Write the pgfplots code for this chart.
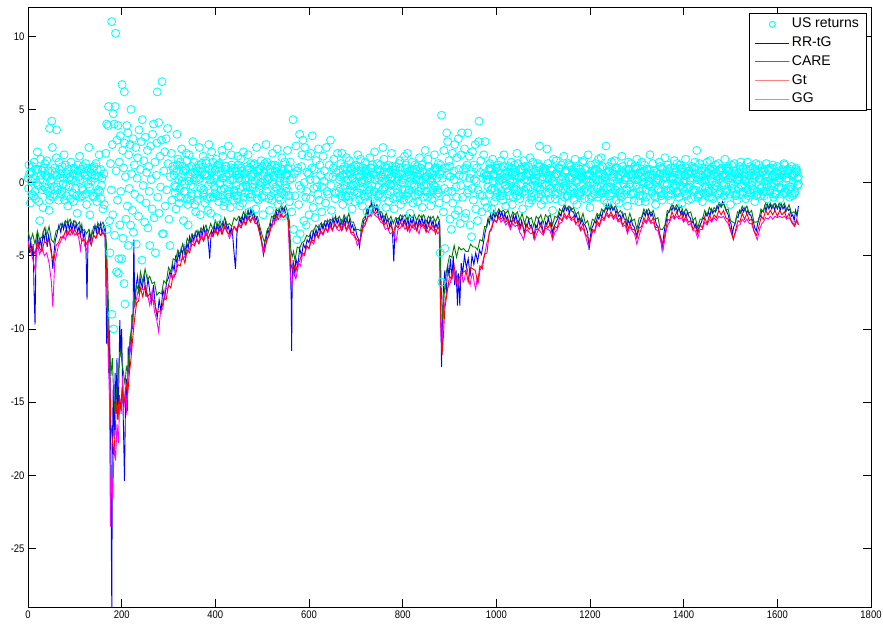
\documentclass[border=0pt]{standalone}
\usepackage{fontspec}
\setmainfont{Liberation Sans}
\newfontfamily\tickfont[FakeStretch=0.86]{Liberation Sans}
\usepackage{pgfplots}
\pgfplotsset{compat=1.18}
\definecolor{mcyan}{rgb}{0,1,1}
\definecolor{mblue}{rgb}{0,0,1}
\definecolor{mmag}{rgb}{1,0,1}
\definecolor{mred}{rgb}{1,0,0}
\definecolor{mgreen}{rgb}{0,0.5,0}
\definecolor{lred}{rgb}{1,0.5,0.5}
\definecolor{lgreen}{rgb}{0.5,0.75,0.5}
\begin{document}
\begin{tikzpicture}
\path[use as bounding box] (-28pt,-17pt) rectangle (855pt,607pt);
\begin{axis}[
  at={(0pt,0pt)}, anchor=south west,
  width=843pt, height=600pt, scale only axis,
  xmin=0, xmax=1800, ymin=-29, ymax=12,
  xtick={0,200,...,1800}, ytick={-25,-20,...,10},
  xticklabels={0,200,400,600,800,1000,1200,1400,1600,1800},
  yticklabels={-25,-20,-15,-10,-5,0,5,10},
  tick label style={font=\tickfont\fontsize{11}{13}\selectfont},
  tick align=inside, major tick length=8pt,
  xtick pos=both, ytick pos=both,
  axis line style={line width=0.8pt},
  every tick/.style={black, line width=0.8pt},
  legend cell align=left,
  legend style={at={(1,1)}, anchor=north east, xshift=-5pt, yshift=-6.3pt, fill=white, font=\fontsize{14}{16}\selectfont, inner xsep=5pt, inner ysep=1.5pt, row sep=0pt, nodes={inner xsep=2pt, inner ysep=2.5pt, text height=10.3pt, text depth=3.45pt}},
]
\addplot[only marks, mark=o, mark size=4pt, mcyan, line width=0.8pt,
  legend image code/.code={\draw[draw=mcyan, line width=0.9pt] (17pt,0pt) circle[radius=3pt];}]
coordinates {
(0,0.3)(5,-1.4)(10,1.1)(15,-0.6)(20,2.1)(25,-2.6)(30,0.8)(35,-0.3)(40,1.5)(45,-1.9)(50,0.2)(55,-0.8)(60,1.7)(65,-1.2)(70,0.6)(75,-0.1)(80,1.2)(85,-1.6)(90,0.4)(95,-0.7)(100,0.9)(105,-2.1)(110,1.8)(115,-0.4)(120,0.7)(125,-1.5)(130,2.4)(135,0.1)(140,-1.0)(145,1.3)(150,-0.5)(155,0.9)(160,-1.8)
(2,1.2)(7,0.1)(12,-0.9)(17,0.9)(22,-0.2)(27,1.6)(32,-1.7)(37,0.5)(42,-0.6)(46,3.7)(50.6,4.2)(61,3.6)(52,2.4)(47,-0.9)(57,1.0)(62,-0.3)(67,0.9)(72,-0.6)(77,1.9)(82,-0.9)(87,0.3)(92,1.4)(97,-1.3)(102,0.1)(107,0.8)(112,-1.0)(117,1.1)(122,-0.8)(127,0.5)(132,-2.2)(137,1.0)(142,0.3)(147,-1.3)(152,1.9)(157,-0.2)(162,0.6)
(1,-0.4)(6,0.7)(11,0.3)(16,-1.1)(21,0.9)(26,0.2)(31,-0.5)(36,1.3)(41,0.4)(46,-1.2)(51,0.8)(56,-0.3)(61,0.5)(66,1.4)(71,-0.8)(76,0.3)(81,-0.2)(86,0.9)(91,-1.1)(96,0.6)(101,-0.4)(106,1.2)(111,0.2)(116,-0.9)(121,0.5)(126,1.0)(131,-0.3)(136,0.6)(141,1.1)(146,-0.7)(151,0.4)(156,-1.1)
(3,0.6)(8,-0.8)(13,1.4)(18,0.0)(23,-1.3)(28,0.5)(33,1.0)(38,-0.4)(43,0.8)(48,0.1)(53,-1.0)(58,0.7)(63,-0.5)(68,0.3)(73,1.1)(78,-1.2)(83,0.6)(88,-0.3)(93,0.2)(98,1.0)(103,-0.9)(108,0.4)(113,0.9)(118,-0.5)(123,1.3)(128,-0.1)(133,0.7)(138,-0.9)(143,0.5)(148,0.9)(153,-0.6)(158,0.3)
(163,-1.5)(166,2.0)(168,4.0)(169,-3.2)(171,3.9)(172,5.2)(174,-2.6)(175,-4.8)(176,1.3)(178,-0.5)(178.7,11.0)(179,-9.0)(180,2.6)(181,-2.2)(182,4.7)(182.5,-10.0)(184,4.0)(185,-3.6)(186,5.2)(187,10.2)(188,0.8)(189,-6.1)(190,2.9)(191,-1.2)(192,3.9)(193,-6.2)(194,-5.2)(195,1.4)(196,-2.9)(197,3.2)(198,-0.6)(200,-5.2)(200.7,6.7)(202,2.2)(203,-3.8)(204,1.0)(205,-6.9)(205.7,6.2)(206,2.7)(207,-8.3)(208,0.4)(209,-2.5)(211,3.9)(212,-1.6)(213,3.4)(214,-4.3)(215,1.9)(216,-0.4)(218,2.6)(219,-2.9)(220,5.0)(221,0.6)(223,-1.9)(224,3.0)(225,-3.4)(227,1.2)(228,-0.8)(230,2.4)(231,-4.2)(233,0.3)(234,1.7)(236,-2.3)(237,3.6)(239,-1.1)(240,0.9)(242,2.8)(243,-5.3)(244,4.3)(246,-0.2)(247,1.5)(249,-2.7)(250,3.1)(252,-1.4)(253,0.7)(255,2.2)(256,-3.1)(258,1.1)(259,-0.6)(260,-4.3)(262,2.5)(263,0.2)(265,-1.8)(266,3.3)(268,4.0)(269,-2.4)(271,1.4)(272,-4.8)(274,0.5)(275,2.7)(276,6.2)(277,-1.0)(279,4.1)(280,-2.1)(282,1.8)(283,-0.3)(285,2.9)(286,6.9)(287,-3.5)(289,-3.5)(290,0.8)(292,2.1)(293,-1.6)(295,3.0)(296,-0.5)(298,3.7)(299,1.3)(301,-2.5)(303,-4.3)(304,0.4)(306,2.0)(307,-1.2)(309,1.1)
(312,0.5)(316,-1.8)(320,1.6)(324,-0.4)(328,2.3)(332,-2.6)(336,0.9)(340,-1.1)(344,1.9)(348,-0.2)(352,2.8)(356,-1.5)(360,0.3)(364,1.2)(368,-2.2)(372,0.7)(376,-0.8)(380,1.5)(384,-1.9)(388,0.2)(392,2.1)(396,-1.0)(400,0.9)(404,-2.4)(408,1.3)(412,-0.5)(416,1.8)(420,-1.3)(424,0.4)(428,2.5)(432,-1.7)(436,0.8)(440,-0.6)
(314,-0.7)(318,3.3)(322,0.2)(326,-1.0)(330,1.1)(334,-0.1)(338,2.0)(342,-2.9)(346,0.6)(350,-0.9)(354,1.4)(358,-2.0)(362,0.8)(366,2.4)(370,-0.4)(374,1.8)(378,-1.4)(382,0.5)(386,2.6)(390,-2.1)(394,1.0)(398,-0.3)(402,1.6)(406,-0.9)(410,0.0)(414,2.2)(418,-1.6)(422,1.1)(426,-0.8)(430,0.6)(434,1.9)(438,-1.2)
(311,0.9)(315,-0.3)(319,1.2)(323,-1.4)(327,0.4)(331,0.8)(335,-0.6)(339,1.5)(343,0.1)(347,-1.2)(351,0.7)(355,0.2)(359,1.0)(363,-0.8)(367,0.3)(371,1.3)(375,-0.5)(379,0.6)(383,-1.1)(387,0.9)(391,0.0)(395,1.4)(399,-0.7)(403,0.5)(407,-1.3)(411,1.0)(415,0.3)(419,-0.4)(423,1.1)(427,-1.0)(431,0.2)(435,1.2)(439,-0.5)(443,0.8)(447,-1.1)(451,0.6)(455,1.0)(459,-0.3)(463,0.2)(467,1.1)(471,-0.8)(475,0.5)(479,-0.1)(483,1.3)(487,-0.6)(491,0.4)(495,0.9)(499,-1.0)(503,0.7)(507,-0.2)(511,1.1)(515,0.3)(519,-0.9)(523,0.5)(527,1.2)(531,-0.4)(535,0.6)(539,-1.2)(543,0.9)(547,0.1)(551,-0.6)(555,1.0)(559,0.2)
(313,-0.2)(317,0.8)(321,-1.0)(325,1.4)(329,0.1)(333,-0.6)(337,0.9)(341,-1.5)(345,0.4)(349,1.1)(353,-0.3)(357,0.6)(361,-1.2)(365,0.2)(369,1.0)(373,-0.7)(377,0.5)(381,1.3)(385,-0.2)(389,-1.0)(393,0.7)(397,0.3)(401,-0.8)(405,1.2)(409,-0.1)(413,0.6)(417,-1.1)(421,0.9)(425,0.0)(429,-0.6)(433,1.0)(437,0.2)(441,-0.9)(445,0.5)(449,1.2)(453,-0.4)(457,0.8)(461,-1.0)(465,0.3)(469,-0.3)(473,1.0)(477,-0.8)(481,0.6)(485,0.1)(489,-1.1)(493,0.9)(497,-0.2)(501,0.5)(505,1.3)(509,-0.6)(513,0.2)(517,0.9)(521,-1.2)(525,0.4)(529,-0.3)(533,1.1)(537,0.0)(541,-0.7)(545,0.8)(549,-0.2)(553,0.6)(557,-0.9)
(442,1.0)(446,-0.9)(450,0.3)(454,1.6)(458,-1.4)(462,0.6)(466,-0.2)(470,1.9)(474,-1.0)(478,0.4)(482,1.2)(486,-1.8)(490,0.8)(494,-0.4)(498,1.5)(502,-2.2)(506,0.1)(510,1.4)(514,-1.1)(518,0.7)(522,2.0)(526,-0.6)(530,1.0)(534,-1.5)(538,0.3)(542,1.7)(546,-0.8)(550,0.5)(554,2.2)(558,-1.3)
(444,-0.2)(448,1.8)(452,-1.6)(456,0.2)(460,2.1)(464,-0.7)(468,0.9)(472,-2.0)(476,1.3)(480,-0.3)(484,0.6)(488,2.4)(492,-1.2)(496,0.0)(500,1.1)(504,-0.9)(508,2.6)(512,0.4)(516,-1.9)(520,1.2)(524,-0.1)(528,0.8)(532,2.3)(536,-1.0)(540,0.6)(544,-2.3)(548,1.4)(552,-0.4)(556,0.9)
(560,1.4)(563,-2.0)(566,4.3)(567,-3.2)(569,0.6)(572,2.5)(574,-3.9)(576,1.0)(578,-1.5)(580,3.3)(581,-3.5)(583,-0.4)(585,1.9)(587,2.9)(589,-2.6)(591,2.4)(593,-1.0)(594,-2.9)(596,0.7)(598,1.8)(600,-2.2)(602,0.2)(604,2.0)(607,3.2)(609,-1.7)(611,0.9)(613,-2.4)(615,1.5)(617,-0.3)(620,2.3)(622,-1.2)(625,0.5)(627,-2.0)(630,1.8)(632,0.1)(635,-1.4)(637,2.4)(640,-0.8)(643,1.2)(646,2.9)(648,-1.9)(651,0.4)(653,1.6)(656,-1.1)(658,0.7)(661,2.0)
(564,0.3)(570,-0.9)(575,0.8)(579,-0.2)(584,1.1)(590,0.0)(595,-0.6)(599,0.6)(603,-1.1)(606,1.0)(610,-0.4)(614,0.2)(619,-0.8)(623,1.2)(628,-0.3)(633,0.8)(638,-0.6)(642,0.4)(647,-0.2)(652,1.0)(657,-0.7)
(664,-0.6)(668,1.3)(672,-1.5)(676,0.4)(680,1.7)(684,-0.9)(688,0.6)(692,-1.8)(696,1.1)(700,0.0)(704,1.9)(708,-1.2)(712,0.8)(716,-0.3)(720,1.4)(724,-2.0)(728,0.5)(732,1.0)(736,-0.8)(740,2.1)(744,-1.4)(748,0.3)(752,1.2)(756,-0.5)(760,1.6)(764,-1.7)(768,0.7)(772,-0.1)(776,2.0)(780,-1.1)(784,0.9)(788,-0.4)(792,1.3)(796,-1.5)(800,0.2)(804,1.8)(808,-0.9)(812,0.6)(816,-2.1)(820,1.4)(824,-0.2)(828,0.9)(832,-1.3)(836,1.7)(840,0.1)(844,-1.0)(848,2.2)(852,-0.6)(856,1.1)(860,-1.6)(864,0.5)(868,1.9)(872,-0.8)(876,1.3)
(666,0.4)(670,2.0)(674,-0.4)(678,-1.0)(682,0.9)(686,1.5)(690,-0.2)(694,0.3)(698,-1.3)(702,0.8)(706,-0.7)(710,1.6)(714,-1.6)(718,0.2)(722,0.9)(726,-0.9)(730,1.7)(734,-0.2)(738,0.6)(742,-1.9)(746,1.3)(750,-0.8)(754,0.4)(758,2.4)(762,-0.3)(766,1.0)(770,-1.3)(774,0.3)(778,1.1)(782,-1.8)(786,0.6)(790,-0.7)(794,1.5)(798,0.0)(802,-1.2)(806,0.9)(810,2.0)(814,-0.5)(818,0.3)(822,-1.4)(826,1.2)(830,0.4)(834,-0.6)(838,1.0)(842,-1.7)(846,0.7)(850,-0.1)(854,1.6)(858,0.2)(862,-1.1)(866,0.8)(870,-0.3)(874,1.0)(878,-1.4)
(663,0.8)(667,-0.4)(671,0.5)(675,1.1)(679,-0.9)(683,0.2)(687,-0.5)(691,0.9)(695,-0.2)(699,1.2)(703,-0.7)(707,0.4)(711,0.0)(715,1.0)(719,-1.0)(723,0.6)(727,-0.3)(731,0.3)(735,1.2)(739,-0.6)(743,0.5)(747,-0.9)(751,0.8)(755,0.1)(759,-0.4)(763,1.1)(767,-0.8)(771,0.6)(775,-0.2)(779,0.9)(783,0.2)(787,-1.0)(791,0.4)(795,1.0)(799,-0.5)(803,0.3)(807,1.2)(811,-0.7)(815,0.8)(819,-0.1)(823,0.5)(827,-0.9)(831,1.1)(835,0.2)(839,-0.4)(843,0.8)(847,-0.6)(851,0.4)(855,1.1)(859,-0.8)(863,0.3)(867,-0.2)(871,0.9)(875,-0.5)(879,0.6)
(665,0.2)(669,-0.9)(673,0.9)(677,-0.2)(681,0.6)(685,-1.2)(689,1.0)(693,0.3)(697,-0.6)(701,0.5)(705,1.1)(709,-0.4)(713,0.1)(717,-0.9)(721,0.8)(725,0.3)(729,-0.5)(733,1.0)(737,-1.1)(741,0.2)(745,0.9)(749,-0.3)(753,0.5)(757,-1.0)(761,0.7)(765,0.1)(769,1.2)(773,-0.6)(777,0.4)(781,-0.2)(785,1.1)(789,0.3)(793,-0.9)(797,0.6)(801,0.0)(805,-0.5)(809,1.0)(813,-1.1)(817,0.5)(821,0.9)(825,-0.3)(829,0.2)(833,-0.8)(837,0.6)(841,1.2)(845,-0.2)(849,0.4)(853,-1.0)(857,0.7)(861,0.1)(865,-0.5)(869,1.0)(873,0.3)(877,-0.7)
(880,-4.8)(881,1.2)(883,4.6)(883.5,-6.8)(885,0.3)(887,-2.0)(888,2.2)(890,-4.5)(891,1.0)(893,-1.1)(894,3.4)(896,2.8)(897,-0.6)(899,1.5)(901,-2.5)(902,0.4)(904,-3.2)(906,2.0)(907,-1.4)(909,0.8)(911,2.6)(912,-2.2)(914,-0.3)(916,1.7)(918,-1.9)(919,3.0)(921,0.5)(923,-2.8)(925,1.9)(926,3.4)(928,-1.0)(930,0.9)(932,2.3)(933,-2.4)(935,-2.1)(937,1.2)(939,3.4)(940,-0.5)(942,1.8)(944,-2.9)(946,0.6)(947,-3.7)(949,2.1)(951,-1.2)(953,0.2)(955,2.6)(956,-1.8)(958,1.0)(960,-2.6)(962,2.8)(963,4.2)(965,-0.8)(967,1.5)(969,-2.0)(971,0.3)(973,1.9)(975,-1.3)(976,2.8)(978,0.5)(980,-1.7)
(884,0.8)(889,-0.4)(895,0.5)(900,1.1)(905,-0.6)(910,0.2)(915,-1.0)(920,0.9)(924,-0.2)(929,0.4)(934,1.0)(938,-0.7)(943,0.3)(948,-0.4)(952,1.2)(957,0.1)(961,-0.5)(966,0.7)(970,-0.9)(974,0.6)(979,0.2)
(984,0.9)(988,-0.5)(992,1.6)(996,-1.3)(1000,0.4)(1004,1.2)(1008,-0.9)(1012,0.2)(1016,1.9)(1020,-1.6)(1024,0.7)(1028,-0.2)(1032,1.4)(1036,-1.0)(1040,0.5)(1044,2.0)(1048,-0.6)(1052,0.9)(1056,-1.8)(1060,1.1)(1064,-0.3)(1068,0.6)(1072,1.7)(1076,-1.2)(1080,0.3)(1084,-0.8)(1088,1.3)(1092,2.5)(1096,-1.5)(1100,0.8)(1104,-0.1)(1108,2.3)(1112,-0.7)(1116,1.0)(1120,-1.9)(1124,0.4)(1128,1.5)(1132,-0.4)(1136,0.9)(1140,-1.3)(1144,1.8)(1148,0.1)(1152,-0.9)(1156,1.2)(1160,-0.3)(1164,0.7)(1168,1.6)(1172,-1.5)(1176,0.5)(1180,-0.6)(1184,1.4)(1188,-1.1)(1192,0.2)(1196,1.9)(1200,-1.7)(1204,0.8)(1208,-0.2)(1212,1.3)(1216,-1.0)(1220,0.6)(1224,1.7)(1228,-0.5)(1232,0.3)(1234,2.5)(1236,-1.4)(1240,1.1)(1244,-0.3)(1248,0.8)(1252,1.5)(1256,-1.2)(1260,0.4)(1264,-0.7)(1268,1.8)(1272,-0.1)(1276,0.9)(1280,-1.6)(1284,0.6)(1288,1.3)(1292,-0.8)(1296,0.2)(1300,1.6)(1304,-1.3)(1308,0.7)(1312,-0.4)(1316,1.2)(1320,-1.0)(1324,0.5)(1328,1.9)(1332,-0.6)(1336,0.8)(1340,-1.5)(1344,0.3)(1348,1.4)(1352,-0.9)(1356,0.6)(1360,1.7)(1364,-0.2)(1368,0.9)(1372,-1.2)(1376,0.4)(1380,1.5)(1384,-0.7)(1388,0.1)(1392,1.2)(1396,-1.4)(1400,0.7)(1404,1.6)(1408,-0.4)(1412,0.8)(1416,-1.1)(1420,0.3)(1424,1.4)(1428,2.2)(1432,-0.8)(1436,0.5)(1440,-1.3)(1444,1.0)(1448,0.2)(1452,-0.6)(1456,1.5)(1460,-1.0)(1464,0.6)(1468,1.2)(1472,-0.3)(1476,0.8)(1480,-1.2)(1484,0.4)(1488,1.6)(1492,-0.5)(1496,0.9)(1500,-1.5)(1504,0.3)(1508,1.3)(1512,-0.8)(1516,0.6)(1520,1.1)(1524,-0.2)(1528,0.7)(1532,-1.1)(1536,1.4)(1540,0.2)(1544,-0.7)(1548,1.0)(1552,-1.3)(1556,0.5)(1560,1.2)(1564,-0.4)(1568,0.8)(1572,-0.9)(1576,1.3)(1580,0.1)(1584,-0.6)(1588,1.0)(1592,-1.0)(1596,0.4)(1600,1.1)(1604,-0.3)(1608,0.7)(1612,-0.8)(1616,1.2)(1620,0.3)(1624,-0.5)(1628,0.9)(1632,-0.9)(1636,0.6)(1640,1.0)(1643,-0.2)(1645,0.4)
(982,-0.3)(986,1.3)(990,-1.8)(994,0.5)(998,1.0)(1002,-0.7)(1006,0.1)(1010,1.5)(1014,-1.2)(1018,0.6)(1022,-0.4)(1026,1.1)(1030,0.0)(1034,-1.5)(1038,0.9)(1042,-0.3)(1046,1.3)(1050,-1.1)(1054,0.4)(1058,1.5)(1062,-0.8)(1066,0.2)(1070,-1.4)(1074,0.8)(1078,1.4)(1082,-0.2)(1086,0.5)(1090,-1.0)(1094,1.1)(1098,0.2)(1102,-1.2)(1106,0.7)(1110,1.3)(1114,-0.4)(1118,0.3)(1122,1.6)(1126,-1.1)(1130,0.6)(1134,-0.3)(1138,1.2)(1142,0.0)(1146,-1.0)(1150,0.8)(1154,1.3)(1158,-0.6)(1162,0.3)(1166,-1.2)(1170,1.0)(1174,0.2)(1178,-0.9)(1182,0.7)(1186,1.5)(1190,-0.4)(1194,0.5)(1198,-1.1)(1202,1.2)(1206,0.0)(1210,-0.8)(1214,0.9)(1218,1.6)(1222,-0.6)(1226,0.2)(1230,-1.2)(1238,0.7)(1242,-0.9)(1246,1.4)(1250,0.1)(1254,-0.5)(1258,1.0)(1262,-1.4)(1266,0.5)(1270,1.1)(1274,-0.8)(1278,0.3)(1282,1.4)(1286,-0.3)(1290,0.6)(1294,-1.2)(1298,0.9)(1302,0.2)(1306,-0.6)(1310,1.4)(1314,0.0)(1318,-1.3)(1322,0.9)(1326,-0.1)(1330,0.6)(1334,1.3)(1338,-0.9)(1342,0.2)(1346,-0.4)(1350,1.1)(1354,-1.2)(1358,0.3)(1362,-0.5)(1366,1.2)(1370,0.4)(1374,-0.8)(1378,0.7)(1382,-0.2)(1386,1.3)(1390,-1.0)(1394,0.5)(1398,0.0)(1402,-0.6)(1406,1.0)(1410,-1.2)(1414,0.3)(1418,1.1)(1422,-0.5)(1426,0.6)(1430,-1.0)(1434,1.3)(1438,0.1)(1442,-0.7)(1446,0.8)(1450,1.4)(1454,-0.4)(1458,0.3)(1462,-1.1)(1466,0.9)(1470,0.0)(1474,1.3)(1478,-0.6)(1482,0.5)(1486,-0.9)(1490,1.0)(1494,0.2)(1498,-0.8)(1502,1.2)(1506,-0.1)(1510,0.6)(1514,-1.2)(1518,0.4)(1522,1.4)(1526,-0.6)(1530,0.2)(1534,0.9)(1538,-0.9)(1542,1.1)(1546,0.0)(1550,-0.5)(1554,1.3)(1558,-0.8)(1562,0.3)(1566,1.0)(1570,-0.6)(1574,0.5)(1578,-1.1)(1582,0.8)(1586,0.2)(1590,1.2)(1594,-0.7)(1598,0.1)(1602,0.8)(1606,-1.1)(1610,0.5)(1614,1.3)(1618,-0.4)(1622,0.6)(1626,-1.0)(1630,1.1)(1634,0.0)(1638,-0.6)(1642,0.8)
(981,0.5)(985,-0.8)(989,0.9)(993,0.1)(997,-0.5)(1001,1.0)(1005,-0.3)(1009,0.6)(1013,-0.9)(1017,0.3)(1021,0.8)(1025,-0.6)(1029,0.2)(1033,1.0)(1037,-0.4)(1041,0.7)(1045,-0.9)(1049,0.4)(1053,-0.1)(1057,0.9)(1061,-0.6)(1065,0.5)(1069,1.1)(1073,-0.3)(1077,0.2)(1081,-0.9)(1085,0.8)(1089,0.0)(1093,-0.5)(1097,0.7)(1101,1.0)(1105,-0.7)(1109,0.3)(1113,-0.2)(1117,0.9)(1121,0.1)(1125,-0.8)(1129,0.6)(1133,1.0)(1137,-0.5)(1141,0.4)(1145,-0.2)(1149,0.8)(1153,-0.9)(1157,0.3)(1161,0.9)(1165,-0.4)(1169,0.1)(1173,0.7)(1177,-0.7)(1181,0.4)(1185,-0.1)(1189,0.9)(1193,-0.6)(1197,0.5)(1201,0.0)(1205,-0.9)(1209,0.8)(1213,0.2)(1217,-0.4)(1221,1.0)(1225,-0.7)(1229,0.5)(1233,0.1)(1237,-0.3)(1241,0.8)(1245,-0.8)(1249,0.4)(1253,0.9)(1257,-0.2)(1261,0.3)(1265,-0.9)(1269,0.7)(1273,0.2)(1277,-0.5)(1281,0.9)(1285,-0.1)(1289,0.5)(1293,-0.7)(1297,1.0)(1301,0.2)(1305,-0.4)(1309,0.7)(1313,-0.9)(1317,0.4)(1321,0.9)(1325,-0.2)(1329,0.3)(1333,-0.7)(1337,0.8)(1341,0.0)(1345,-0.5)(1349,0.6)(1353,1.0)(1357,-0.8)(1361,0.4)(1365,-0.1)(1369,0.8)(1373,-0.5)(1377,0.2)(1381,1.0)(1385,-0.6)(1389,0.5)(1393,-0.2)(1397,0.9)(1401,0.1)(1405,-0.8)(1409,0.6)(1413,-0.3)(1417,0.7)(1421,1.0)(1425,-0.5)(1429,0.2)(1433,-0.9)(1437,0.8)(1441,0.4)(1445,-0.3)(1449,0.6)(1453,-0.7)(1457,0.9)(1461,0.1)(1465,-0.4)(1469,0.7)(1473,-0.8)(1477,0.3)(1481,1.0)(1485,-0.2)(1489,0.5)(1493,-0.6)(1497,0.8)(1501,0.0)(1505,-0.7)(1509,0.6)(1513,0.2)(1517,-0.4)(1521,0.9)(1525,-0.8)(1529,0.4)(1533,0.1)(1537,-0.5)(1541,0.8)(1545,-0.2)(1549,0.5)(1553,0.9)(1557,-0.6)(1561,0.3)(1565,-0.9)(1569,0.7)(1573,0.1)(1577,-0.3)(1581,0.9)(1585,-0.5)(1589,0.4)(1593,0.0)(1597,-0.8)(1601,0.6)(1605,0.3)(1609,-0.4)(1613,0.8)(1617,-0.6)(1621,0.9)(1625,0.2)(1629,-0.3)(1633,0.5)(1637,-0.7)(1641,0.7)(1645,-0.1)
(983,0.2)(987,1.0)(991,-0.4)(995,0.6)(999,-1.0)(1003,0.8)(1007,0.3)(1011,-0.6)(1015,1.1)(1019,-0.2)(1023,0.4)(1027,-0.9)(1031,0.7)(1035,0.1)(1039,1.2)(1043,-0.5)(1047,0.3)(1051,0.9)(1055,-0.7)(1059,0.2)(1063,1.0)(1067,-0.4)(1071,0.5)(1075,-1.0)(1079,0.7)(1083,0.1)(1087,-0.3)(1091,1.1)(1095,-0.8)(1099,0.4)(1103,0.9)(1107,-0.2)(1111,0.5)(1115,-1.1)(1119,0.8)(1123,0.0)(1127,0.6)(1131,-0.7)(1135,1.0)(1139,0.2)(1143,-0.4)(1147,0.7)(1151,-0.9)(1155,0.4)(1159,1.1)(1163,-0.3)(1167,0.6)(1171,0.0)(1175,-0.8)(1179,0.9)(1183,0.3)(1187,-0.5)(1191,1.0)(1195,-0.2)(1199,0.6)(1203,-1.0)(1207,0.4)(1211,0.9)(1215,-0.3)(1219,0.2)(1223,-0.8)(1227,1.1)(1231,0.4)(1235,-0.4)(1239,0.8)(1243,0.0)(1247,-0.7)(1251,0.6)(1255,1.0)(1259,-0.3)(1263,0.5)(1267,-1.0)(1271,0.7)(1275,0.2)(1279,-0.4)(1283,0.9)(1287,-0.8)(1291,0.3)(1295,1.1)(1299,-0.2)(1303,0.6)(1307,-0.9)(1311,0.4)(1315,0.8)(1319,-0.5)(1323,0.1)(1327,0.9)(1331,-0.3)(1335,0.5)(1339,-1.0)(1343,0.7)(1347,0.2)(1351,-0.6)(1355,0.9)(1359,-0.1)(1363,0.6)(1367,-0.9)(1371,1.0)(1375,0.3)(1379,-0.4)(1383,0.7)(1387,-0.7)(1391,0.2)(1395,1.0)(1399,-0.3)(1403,0.5)(1407,-0.9)(1411,0.8)(1415,0.1)(1419,-0.5)(1423,0.9)(1427,-0.2)(1431,0.4)(1435,-0.8)(1439,1.0)(1443,0.2)(1447,-0.4)(1451,0.7)(1455,-1.0)(1459,0.5)(1463,0.9)(1467,-0.2)(1471,0.4)(1475,-0.7)(1479,0.8)(1483,0.0)(1487,0.6)(1491,-0.6)(1495,1.0)(1499,0.3)(1503,-0.4)(1507,0.8)(1511,-0.9)(1515,0.2)(1519,0.7)(1523,-0.3)(1527,1.0)(1531,0.1)(1535,-0.7)(1539,0.5)(1543,0.9)(1547,-0.4)(1551,0.3)(1555,-0.9)(1559,0.7)(1563,0.2)(1567,-0.3)(1571,0.9)(1575,-0.6)(1579,0.4)(1583,1.0)(1587,-0.2)(1591,0.5)(1595,-0.8)(1599,0.7)(1603,0.1)(1607,-0.4)(1611,0.9)(1615,-0.7)(1619,0.3)(1623,0.8)(1627,-0.3)(1631,0.5)(1635,-0.8)(1639,0.9)(1643,0.3)
};
\addlegendentry{US returns}
\addplot[mblue, line width=0.9pt, legend image code/.code={\draw[draw=mblue, line width=1.2pt] (0pt,0pt) -- (34pt,0pt);}]
coordinates {
(0,-3.6)(3,-4.8)(6,-4.0)(9,-5.0)(11,-4.2)(13,-7.5)(15,-9.7)(17,-5.0)(20,-3.5)(23,-4.4)(26,-3.9)(29,-4.5)(32,-3.5)(35,-3.9)(38,-3.2)(41,-4.4)(44,-3.6)(47,-4.1)(50,-4.7)(53,-5.9)(55,-5.0)(58,-4.0)(62,-3.5)(66,-2.9)(70,-3.4)(73,-2.8)(76,-3.2)(79,-2.7)(82,-3.3)(85,-2.6)(88,-3.2)(91,-2.8)(94,-3.3)(97,-2.7)(100,-3.2)(103,-2.8)(106,-3.4)(109,-3.0)(112,-3.6)(115,-2.9)(118,-3.8)(121,-3.4)(124,-4.8)(126,-8.0)(128,-4.2)(131,-3.4)(134,-4.0)(137,-3.3)(140,-3.5)(143,-2.9)(146,-3.4)(149,-2.8)(152,-3.4)(155,-2.8)(158,-3.5)(161,-3.0)(164,-3.3)
(166,-6.0)(168,-11.0)(170,-8.0)(172,-13.0)(174,-10.0)(176,-15.5)(178,-25.0)(179,-29.5)(180,-18.5)(182,-14.0)(184,-17.5)(186,-13.0)(188,-15.8)(190,-12.0)(192,-16.2)(194,-13.5)(196,-9.4)(198,-11.8)(200,-10.0)(202,-14.0)(204,-17.0)(206,-20.4)(208,-15.5)(210,-13.4)(212,-15.6)(214,-11.2)(216,-13.0)(218,-10.5)(220,-11.6)(222,-9.0)(224,-10.0)(226,-3.9)(228,-8.5)(231,-7.0)(234,-6.4)(237,-7.6)(240,-6.6)(244,-7.2)(248,-6.3)(252,-7.8)(256,-6.5)(260,-7.4)(264,-8.2)(268,-7.0)(272,-8.5)(276,-9.2)(280,-8.0)(284,-8.8)(288,-7.3)(292,-7.9)(296,-6.8)
(300,-6.5)(303,-6.1)(306,-6.4)(309,-5.6)(312,-6.0)(315,-5.1)(318,-5.5)(321,-4.8)(324,-5.2)(327,-4.5)(330,-4.9)(333,-4.3)(336,-5.2)(339,-4.1)(342,-4.5)(345,-3.7)(348,-4.2)(351,-3.6)(354,-4.0)(357,-3.4)(360,-3.9)(363,-3.3)(366,-3.7)(369,-3.2)(372,-3.6)(375,-3.0)(378,-3.5)(381,-3.2)(384,-3.8)(386,-4.4)(388,-5.2)(390,-4.0)(392,-3.3)(395,-3.6)(398,-2.9)(401,-3.4)(404,-2.8)(407,-3.3)(410,-2.9)(413,-3.4)(416,-2.7)(419,-3.1)(422,-2.6)(425,-3.2)(428,-3.0)(431,-3.5)(434,-3.1)(437,-3.6)(440,-4.8)(443,-5.9)(446,-3.5)(449,-2.9)(452,-2.4)(455,-2.8)(458,-2.3)(461,-2.7)(464,-2.0)(467,-2.5)(470,-1.9)(473,-2.4)(476,-1.8)(479,-2.3)(482,-2.0)(485,-2.6)(488,-2.4)(491,-2.9)(494,-3.1)(497,-3.6)(500,-4.2)(503,-4.9)(506,-4.0)(509,-3.8)(512,-3.2)(515,-3.5)(518,-2.8)(521,-3.0)(524,-2.3)(527,-2.6)(530,-2.0)(533,-2.4)(536,-1.8)(539,-2.2)(542,-1.6)(545,-2.0)(548,-1.8)(551,-2.3)(554,-2.1)(557,-2.9)
(558,-3.4)(560,-5.5)(562,-8.0)(563,-11.5)(564,-7.0)(566,-5.3)(569,-6.4)(572,-5.2)(576,-5.8)(580,-4.5)(584,-5.0)(588,-4.2)(592,-4.5)(596,-3.9)
(600,-4.1)(603,-3.6)(606,-4.0)(609,-3.3)(612,-3.7)(615,-3.2)(618,-3.6)(621,-3.0)(624,-3.4)(627,-2.8)(630,-3.2)(633,-2.7)(636,-3.1)(639,-2.6)(642,-3.1)(645,-2.6)(648,-3.0)(651,-2.4)(654,-2.9)(657,-2.3)(660,-2.8)(663,-2.5)(666,-3.0)(669,-2.6)(672,-3.1)(675,-2.4)(678,-2.9)(681,-2.4)(684,-2.9)(687,-2.5)(690,-3.1)(693,-2.9)(696,-3.3)(699,-3.1)(702,-3.6)(705,-3.8)(708,-4.4)(711,-3.4)(714,-3.1)(717,-2.6)(720,-2.5)(723,-1.9)(726,-2.2)(729,-1.6)(732,-1.6)(733,-1.3)(736,-1.9)(739,-1.5)(742,-1.9)(745,-1.7)(748,-2.2)(751,-1.9)(754,-2.5)(757,-2.2)(760,-2.8)(763,-2.3)(766,-2.7)(769,-2.5)(772,-3.0)(775,-2.6)(778,-3.2)(781,-5.4)(784,-3.0)(787,-2.5)(790,-2.9)(793,-2.4)(796,-2.7)(799,-2.3)(802,-2.8)(805,-2.5)(808,-3.0)(811,-2.4)(814,-3.1)(817,-2.5)(820,-2.8)(823,-2.4)(826,-3.0)(829,-2.6)(832,-3.1)(835,-2.5)(838,-2.8)(841,-2.3)(844,-2.9)(847,-2.6)(850,-3.2)(853,-2.6)(856,-2.9)(859,-2.4)(862,-2.9)(865,-2.6)(868,-3.2)(871,-2.8)(874,-3.1)(877,-2.7)(879,-2.9)
(881,-8.0)(883,-12.6)(885,-9.5)(887,-7.2)(890,-6.0)(893,-7.6)(896,-5.6)(899,-6.4)(902,-5.2)(905,-6.6)(908,-5.0)(911,-7.0)(914,-6.0)(917,-8.4)(919,-6.2)(922,-8.4)(925,-5.5)(928,-6.2)(932,-5.0)(936,-5.8)(940,-5.2)(944,-6.4)(948,-5.0)(952,-5.6)(956,-4.8)(960,-5.4)(964,-4.6)(968,-4.9)(972,-4.2)
(976,-3.4)(979,-3.0)(982,-2.5)(985,-2.8)(988,-2.2)(991,-2.6)(994,-2.0)(997,-2.4)(1000,-2.1)(1003,-2.4)(1006,-1.9)(1009,-2.3)(1012,-2.0)(1015,-2.5)(1018,-2.1)(1021,-2.5)(1024,-2.3)(1027,-2.9)(1030,-2.5)(1033,-2.8)(1036,-2.2)(1039,-2.6)(1042,-2.2)(1045,-2.8)(1048,-2.6)(1051,-3.1)(1054,-2.6)(1057,-3.0)(1060,-3.5)(1063,-2.8)(1066,-3.0)(1069,-2.5)(1072,-3.0)(1075,-2.9)(1078,-3.3)(1081,-3.6)(1084,-2.9)(1087,-3.1)(1090,-2.5)(1093,-2.9)(1096,-2.7)(1099,-3.2)(1102,-3.4)(1105,-2.7)(1108,-2.9)(1111,-2.4)(1114,-2.9)(1117,-2.7)(1120,-3.5)(1123,-3.0)(1126,-2.8)(1129,-2.6)(1132,-2.4)(1135,-2.1)(1138,-2.3)(1141,-1.8)(1144,-2.0)(1147,-1.6)(1150,-1.9)(1153,-1.7)(1156,-2.1)(1159,-1.7)(1162,-2.0)(1165,-2.0)(1168,-2.4)(1171,-2.2)(1174,-2.6)(1177,-2.4)(1180,-2.8)(1183,-2.5)(1186,-2.8)(1189,-2.9)(1192,-3.1)(1195,-3.4)(1198,-4.6)(1201,-3.6)(1204,-3.1)(1207,-2.9)(1210,-2.6)(1213,-2.8)(1216,-2.3)(1219,-2.5)(1222,-2.1)(1225,-2.4)(1228,-1.9)(1231,-2.0)(1234,-1.6)(1237,-1.9)(1240,-1.5)(1243,-1.9)(1246,-1.6)(1249,-1.9)(1252,-1.7)(1255,-2.1)(1258,-1.9)(1261,-2.3)(1264,-2.2)(1267,-2.6)(1270,-2.1)(1273,-2.5)(1276,-2.5)(1279,-3.0)(1282,-2.6)(1285,-2.8)(1288,-2.5)(1291,-2.9)(1294,-3.0)(1297,-3.3)(1300,-3.7)(1303,-3.1)(1306,-2.8)(1309,-2.5)(1312,-2.3)(1315,-2.0)(1318,-2.3)(1321,-1.9)(1324,-2.3)(1327,-2.0)(1330,-2.3)(1333,-2.1)(1336,-2.5)(1339,-2.5)(1342,-2.9)(1345,-3.0)(1348,-3.4)(1351,-3.8)(1354,-4.6)(1357,-3.7)(1360,-3.0)(1363,-2.6)(1366,-2.1)(1369,-2.0)(1372,-1.7)(1375,-1.9)(1378,-1.6)(1381,-1.9)(1384,-1.7)(1387,-2.0)(1390,-1.7)(1393,-2.1)(1396,-1.9)(1399,-2.3)(1402,-2.0)(1405,-2.4)(1408,-2.0)(1411,-2.3)(1414,-2.4)(1417,-2.8)(1420,-2.6)(1423,-3.0)(1426,-2.8)(1429,-3.4)(1432,-3.1)(1435,-2.9)(1438,-2.7)(1441,-2.4)(1444,-2.5)(1447,-2.1)(1450,-2.3)(1453,-2.0)(1456,-2.3)(1459,-1.8)(1462,-2.1)(1465,-1.9)(1468,-2.0)(1471,-1.6)(1474,-1.8)(1477,-1.4)(1480,-1.6)(1483,-1.3)(1486,-1.5)(1489,-1.7)(1492,-2.0)(1495,-2.2)(1498,-2.6)(1501,-2.8)(1504,-3.5)(1507,-3.0)(1510,-2.8)(1513,-2.3)(1516,-2.4)(1519,-1.9)(1522,-2.1)(1525,-1.8)(1528,-2.0)(1531,-1.7)(1534,-2.1)(1537,-1.9)(1540,-2.2)(1543,-2.2)(1546,-2.5)(1549,-2.7)(1552,-3.1)(1555,-3.3)(1558,-2.8)(1561,-2.4)(1564,-2.3)(1567,-1.9)(1570,-2.0)(1573,-1.6)(1576,-1.9)(1579,-1.5)(1582,-1.8)(1585,-1.5)(1588,-1.8)(1591,-1.5)(1594,-1.9)(1597,-1.5)(1600,-1.8)(1603,-1.5)(1606,-1.9)(1609,-1.5)(1612,-1.8)(1615,-1.6)(1618,-2.0)(1621,-1.7)(1624,-1.9)(1627,-1.8)(1630,-2.3)(1633,-2.2)(1636,-2.6)(1639,-1.9)(1642,-2.3)(1645,-1.6)
};
\addlegendentry{RR-tG}
\addplot[mmag, line width=0.9pt, legend image code/.code={\draw[draw=mmag, line width=1.2pt] (0pt,0pt) -- (34pt,0pt);}]
coordinates {
(0,-4.0)(5,-4.6)(10,-5.2)(15,-6.0)(20,-4.3)(25,-4.9)(30,-4.4)(35,-5.0)(40,-4.8)(45,-5.5)(50,-6.8)(53,-8.5)(57,-5.5)(61,-4.9)(65,-4.3)(70,-4.0)(75,-3.6)(80,-3.9)(85,-3.3)(90,-3.6)(95,-3.2)(100,-3.6)(105,-3.4)(109,-3.9)(112,-4.6)(115,-3.9)(118,-3.8)(121,-4.3)(125,-4.6)(130,-3.9)(135,-4.2)(140,-3.6)(145,-3.8)(150,-3.4)(155,-3.6)(160,-3.3)(165,-3.6)
(170,-9.5)(174,-15.0)(176,-23.5)(178,-20.0)(181,-21.6)(184,-17.8)(187,-19.0)(190,-16.5)(193,-17.8)(196,-14.8)(199,-15.8)(202,-13.2)(205,-15.4)(208,-14.0)(211,-15.9)(214,-12.8)(218,-11.5)(222,-10.0)(226,-8.6)(230,-8.2)(235,-7.4)(240,-7.2)(245,-7.3)(250,-7.3)(255,-7.6)(260,-8.4)(265,-7.4)(270,-8.8)(275,-9.4)(279,-10.2)(283,-8.8)(288,-8.6)(293,-7.2)(298,-7.3)(305,-6.3)(312,-6.5)(320,-5.3)(328,-5.3)(336,-5.0)(344,-4.6)(352,-3.9)(356,-4.3)(360,-3.8)(365,-4.1)(370,-3.5)(375,-3.9)(380,-3.3)(385,-3.8)(390,-3.4)(395,-3.6)(400,-3.2)(405,-3.5)(410,-3.1)(415,-3.4)(420,-2.9)(425,-3.3)(430,-3.8)(435,-3.4)(440,-3.0)(445,-3.2)(450,-2.8)(455,-3.0)(460,-2.6)(465,-2.8)(470,-2.3)(475,-2.6)(480,-2.3)(485,-2.6)(490,-2.9)(497,-3.8)(502,-4.8)(508,-4.2)(512,-3.8)(516,-3.3)(520,-3.0)(525,-2.5)(530,-2.6)(535,-2.1)(540,-2.4)(545,-1.9)(550,-2.2)(555,-2.5)
(560,-6.2)(563,-7.2)(567,-6.0)(572,-6.6)(578,-5.5)(582,-5.7)(586,-4.9)(590,-5.0)(595,-4.4)(600,-4.5)(605,-4.0)(610,-4.2)(615,-3.5)(620,-3.8)(625,-3.4)(630,-3.6)(635,-3.1)(640,-3.4)(645,-3.0)(650,-3.3)(655,-2.8)(660,-3.2)(665,-3.3)(670,-3.0)(675,-2.8)(680,-3.3)(685,-3.0)(690,-3.5)(695,-3.6)(700,-3.9)(703,-4.3)(707,-4.1)(710,-3.8)(714,-3.2)(718,-2.8)(723,-2.6)(728,-2.2)(733,-2.3)(738,-1.9)(743,-2.3)(748,-2.4)(753,-2.7)(758,-2.8)(763,-3.2)(768,-3.1)(773,-3.5)(778,-3.4)(782,-3.7)(786,-4.0)(790,-3.2)(795,-3.1)(800,-2.8)(805,-3.2)(810,-3.0)(815,-3.4)(820,-2.9)(825,-3.2)(830,-3.1)(835,-3.5)(840,-2.8)(845,-3.1)(850,-3.2)(855,-3.4)(860,-3.0)(865,-3.3)(870,-3.2)(875,-3.5)(879,-3.3)
(881,-9.8)(884,-11.5)(887,-9.0)(891,-8.0)(896,-7.2)(902,-6.8)(905,-6.2)(908,-6.0)(911,-6.6)(914,-6.9)(917,-6.4)(920,-7.0)(923,-6.5)(926,-6.2)(929,-6.8)(932,-6.6)(935,-6.0)(938,-5.9)(941,-6.6)(944,-7.0)(947,-6.4)(950,-6.2)(953,-6.9)(956,-7.3)(959,-6.5)(962,-6.8)(965,-6.0)(968,-5.8)(971,-5.4)(974,-5.0)(977,-4.6)(980,-4.1)(983,-3.8)(986,-3.3)(989,-3.1)(992,-2.8)(996,-2.6)
(1000,-2.7)(1005,-2.4)(1010,-2.7)(1015,-2.5)(1020,-2.9)(1025,-2.7)(1030,-3.2)(1035,-2.8)(1040,-3.0)(1045,-2.9)(1050,-3.4)(1054,-3.6)(1058,-3.9)(1062,-3.4)(1066,-3.2)(1070,-3.4)(1074,-3.5)(1078,-3.4)(1082,-3.9)(1086,-3.5)(1090,-3.2)(1095,-3.4)(1100,-3.6)(1105,-3.1)(1110,-3.2)(1115,-3.3)(1120,-3.9)(1125,-3.4)(1130,-3.2)(1135,-2.8)(1140,-2.7)(1145,-2.3)(1150,-2.5)(1155,-2.3)(1160,-2.6)(1165,-2.5)(1170,-2.9)(1175,-2.9)(1180,-3.3)(1185,-3.1)(1190,-3.6)(1196,-4.3)(1202,-3.8)(1206,-3.3)(1210,-3.4)(1215,-2.8)(1220,-3.0)(1225,-2.5)(1230,-2.6)(1235,-2.2)(1240,-2.4)(1245,-2.2)(1250,-2.5)(1255,-2.3)(1260,-2.7)(1265,-2.6)(1270,-3.0)(1275,-2.9)(1280,-3.5)(1285,-3.0)(1290,-3.3)(1295,-3.5)(1300,-4.2)(1306,-3.5)(1309,-3.2)(1312,-3.0)(1316,-2.6)(1320,-2.8)(1325,-2.5)(1330,-2.8)(1335,-2.7)(1340,-3.2)(1345,-3.3)(1350,-3.9)(1356,-4.6)(1362,-3.4)(1366,-2.9)(1370,-2.7)(1375,-2.3)(1380,-2.5)(1385,-2.3)(1390,-2.5)(1395,-2.4)(1400,-2.7)(1405,-2.5)(1410,-2.9)(1415,-2.8)(1420,-3.3)(1425,-3.3)(1430,-3.8)(1435,-3.2)(1440,-3.2)(1445,-2.7)(1450,-2.9)(1455,-2.5)(1460,-2.7)(1465,-2.4)(1470,-2.6)(1475,-2.3)(1480,-2.4)(1485,-2.3)(1490,-2.6)(1495,-2.8)(1500,-3.3)(1506,-3.8)(1512,-3.3)(1516,-2.9)(1520,-2.9)(1525,-2.5)(1530,-2.7)(1535,-2.5)(1540,-2.8)(1545,-2.8)(1550,-3.3)(1557,-3.9)(1563,-3.1)(1567,-2.8)(1570,-2.7)(1575,-2.4)(1580,-2.5)(1585,-2.3)(1590,-2.5)(1595,-2.3)(1600,-2.4)(1605,-2.3)(1610,-2.4)(1615,-2.3)(1620,-2.5)(1625,-2.4)(1630,-2.6)(1637,-2.9)(1641,-2.5)(1645,-2.8)
};
\addlegendentry{CARE}
\addplot[mred, line width=0.9pt, legend image code/.code={\draw[draw=lred, line width=1.2pt] (0pt,0pt) -- (34pt,0pt);}]
coordinates {
(0,-4.2)(5,-4.7)(10,-4.4)(15,-4.9)(20,-4.0)(25,-4.5)(30,-4.7)(35,-4.0)(40,-4.2)(45,-3.9)(50,-4.9)(55,-5.4)(60,-4.3)(65,-4.1)(70,-3.7)(75,-3.8)(80,-3.3)(85,-3.6)(90,-3.2)(95,-3.5)(100,-3.2)(105,-3.6)(110,-3.4)(115,-4.0)(120,-3.9)(125,-4.2)(130,-3.8)(135,-4.3)(140,-3.6)(145,-3.8)(150,-3.3)(155,-3.6)(160,-3.4)(166,-3.8)
(170,-8.5)(174,-12.5)(177,-16.5)(180,-17.5)(183,-18.6)(186,-17.2)(189,-15.0)(192,-16.2)(195,-14.5)(198,-15.5)(201,-14.0)(204,-15.2)(207,-14.6)(210,-13.8)(213,-14.4)(216,-13.2)(220,-12.0)(224,-10.5)(228,-9.2)(232,-8.2)(236,-8.1)(240,-7.2)(245,-7.8)(250,-7.0)(255,-7.8)(260,-7.6)(265,-8.0)(270,-8.1)(275,-8.9)(280,-8.8)(285,-8.7)(290,-7.9)(295,-8.0)(300,-7.0)(305,-7.2)(310,-6.3)(315,-6.3)(320,-5.6)(325,-5.7)(330,-5.0)(335,-5.5)(340,-4.6)(345,-4.8)(350,-4.2)(355,-4.3)(360,-3.9)(365,-4.2)(370,-3.7)(375,-4.0)(380,-3.5)(385,-3.8)(390,-3.4)(395,-3.7)(400,-3.2)(405,-3.6)(410,-3.2)(415,-3.5)(420,-3.0)(425,-3.4)(430,-3.5)(435,-3.5)(440,-3.0)(445,-3.3)(450,-2.9)(455,-3.1)(460,-2.6)(465,-2.9)(470,-2.4)(475,-2.7)(480,-2.4)(485,-2.8)(490,-2.8)(495,-3.5)(500,-4.2)(505,-4.7)(510,-3.9)(515,-3.6)(520,-2.9)(525,-2.9)(530,-2.3)(535,-2.5)(540,-2.1)(545,-2.4)(550,-2.2)(556,-2.6)
(560,-5.2)(564,-6.0)(568,-5.6)(572,-6.1)(576,-5.4)(580,-5.4)(585,-4.8)(590,-4.9)(595,-4.3)(600,-4.5)(605,-3.9)(610,-4.0)(615,-3.5)(620,-3.7)(625,-3.3)(630,-3.5)(635,-3.1)(640,-3.3)(645,-2.9)(650,-3.2)(655,-2.8)(660,-3.1)(665,-2.8)(670,-3.3)(675,-2.8)(680,-3.2)(685,-2.8)(690,-3.4)(695,-3.4)(700,-3.8)(705,-4.0)(710,-3.9)(715,-3.1)(720,-2.9)(725,-2.3)(730,-2.3)(735,-1.9)(740,-2.2)(745,-2.0)(750,-2.5)(755,-2.5)(760,-2.9)(765,-2.7)(770,-3.2)(775,-2.9)(780,-3.5)(785,-2.9)(790,-3.1)(795,-2.7)(800,-3.0)(805,-2.7)(810,-3.3)(815,-2.8)(820,-3.1)(825,-2.8)(830,-3.3)(835,-2.8)(840,-3.0)(845,-2.8)(850,-3.4)(855,-2.9)(860,-3.2)(865,-2.9)(870,-3.5)(875,-3.0)(878,-3.2)
(881,-8.5)(884,-11.8)(887,-10.5)(890,-8.6)(895,-7.5)(900,-6.4)(905,-6.6)(910,-5.7)(915,-6.8)(920,-6.6)(925,-6.2)(930,-6.1)(935,-6.0)(940,-6.8)(945,-5.8)(950,-5.9)(955,-6.0)(960,-6.8)(965,-5.7)(970,-5.9)(975,-4.9)(980,-4.8)(985,-3.4)(990,-3.2)(995,-2.5)
(1000,-2.7)(1005,-2.3)(1010,-2.5)(1015,-2.3)(1020,-2.7)(1025,-2.5)(1030,-3.0)(1035,-2.5)(1040,-2.8)(1045,-2.6)(1050,-3.2)(1055,-2.8)(1060,-3.5)(1065,-2.9)(1070,-3.2)(1075,-3.0)(1080,-3.8)(1085,-3.2)(1090,-3.2)(1095,-2.9)(1100,-3.5)(1105,-2.9)(1110,-3.1)(1115,-2.8)(1120,-3.7)(1125,-3.0)(1130,-3.1)(1135,-2.4)(1140,-2.6)(1145,-2.1)(1150,-2.4)(1155,-2.1)(1160,-2.5)(1165,-2.3)(1170,-2.8)(1175,-2.6)(1180,-3.2)(1185,-2.8)(1190,-3.5)(1196,-3.8)(1200,-4.1)(1205,-3.2)(1210,-3.3)(1215,-2.6)(1220,-2.9)(1225,-2.3)(1230,-2.5)(1235,-2.0)(1240,-2.3)(1245,-2.0)(1250,-2.4)(1255,-2.1)(1260,-2.6)(1265,-2.4)(1270,-2.9)(1275,-2.6)(1280,-3.3)(1285,-2.8)(1290,-3.2)(1295,-3.2)(1300,-3.8)(1305,-3.1)(1310,-3.0)(1315,-2.4)(1320,-2.7)(1325,-2.3)(1330,-2.7)(1335,-2.4)(1340,-3.1)(1345,-3.0)(1350,-3.7)(1356,-4.2)(1362,-3.2)(1366,-2.5)(1370,-2.6)(1375,-2.0)(1380,-2.4)(1385,-2.0)(1390,-2.4)(1395,-2.1)(1400,-2.6)(1405,-2.3)(1410,-2.7)(1415,-2.6)(1420,-3.2)(1425,-3.0)(1430,-3.5)(1435,-2.9)(1440,-3.1)(1445,-2.4)(1450,-2.8)(1455,-2.2)(1460,-2.6)(1465,-2.2)(1470,-2.4)(1475,-1.9)(1480,-2.2)(1485,-1.9)(1490,-2.4)(1495,-2.5)(1500,-3.2)(1506,-3.9)(1512,-3.1)(1516,-2.6)(1520,-2.7)(1525,-2.1)(1530,-2.5)(1535,-2.1)(1540,-2.6)(1545,-2.5)(1550,-3.3)(1556,-3.6)(1562,-2.8)(1566,-2.3)(1570,-2.5)(1575,-1.9)(1580,-2.2)(1585,-1.9)(1590,-2.2)(1595,-1.9)(1600,-2.3)(1605,-1.9)(1610,-2.2)(1615,-2.0)(1620,-2.4)(1625,-2.1)(1630,-2.7)(1637,-3.0)(1641,-2.6)(1645,-2.9)
};
\addlegendentry{Gt}
\addplot[mgreen, line width=0.9pt, legend image code/.code={\draw[draw=lgreen, line width=1.2pt] (0pt,0pt) -- (34pt,0pt);}]
coordinates {
(0,-3.3)(5,-4.0)(10,-3.5)(15,-4.2)(20,-3.3)(25,-3.9)(30,-3.7)(35,-3.1)(40,-3.6)(45,-3.0)(50,-3.9)(55,-4.1)(60,-3.3)(65,-3.2)(70,-2.8)(75,-3.0)(80,-2.6)(85,-2.8)(90,-2.5)(95,-2.9)(100,-2.6)(105,-2.9)(110,-2.7)(115,-3.4)(120,-3.2)(125,-3.5)(130,-3.2)(135,-3.8)(140,-3.0)(145,-3.1)(150,-2.8)(155,-3.0)(160,-2.7)(165,-3.1)
(168,-4.5)(171,-7.5)(174,-10.8)(177,-13.2)(180,-12.0)(183,-14.6)(186,-15.8)(189,-14.2)(192,-13.4)(195,-12.1)(198,-11.5)(201,-12.4)(204,-13.0)(207,-13.8)(210,-12.6)(213,-12.9)(216,-11.6)(219,-10.4)(222,-9.6)(225,-8.8)(228,-7.9)(232,-7.0)(236,-7.4)(240,-6.1)(245,-6.8)(250,-5.9)(255,-6.7)(260,-6.4)(265,-6.9)(270,-6.8)(275,-7.7)(280,-7.5)(285,-7.6)(290,-6.7)(295,-6.9)(300,-5.8)(305,-6.1)(310,-5.2)(315,-5.3)(320,-4.6)(325,-4.9)(330,-4.2)(335,-4.8)(340,-3.8)(345,-4.1)(350,-3.5)(355,-3.7)(360,-3.3)(365,-3.5)(370,-3.1)(375,-3.3)(380,-2.9)(385,-3.4)(390,-2.8)(395,-3.2)(400,-2.6)(405,-3.1)(410,-2.6)(415,-3.0)(420,-2.4)(425,-2.9)(430,-2.8)(435,-3.0)(440,-2.4)(445,-2.6)(450,-2.3)(455,-2.5)(460,-2.0)(465,-2.4)(470,-1.9)(475,-2.3)(480,-1.9)(485,-2.3)(490,-2.3)(495,-3.0)(500,-3.6)(505,-4.1)(510,-3.3)(515,-3.0)(520,-2.3)(525,-2.4)(530,-1.8)(535,-2.0)(540,-1.6)(545,-1.8)(550,-1.6)(555,-2.1)(558,-2.6)
(561,-4.5)(564,-5.1)(567,-4.7)(570,-5.3)(575,-4.4)(580,-4.5)(585,-4.1)(590,-4.0)(595,-3.6)(600,-3.7)(605,-3.3)(610,-3.3)(615,-2.9)(620,-3.1)(625,-2.8)(630,-2.9)(635,-2.6)(640,-2.7)(645,-2.5)(650,-2.6)(655,-2.4)(660,-2.5)(665,-2.3)(670,-2.8)(675,-2.2)(680,-2.6)(685,-2.1)(690,-2.7)(695,-2.7)(700,-3.2)(705,-3.2)(710,-3.3)(715,-2.5)(720,-2.3)(725,-1.8)(730,-1.7)(735,-1.5)(740,-1.7)(745,-1.5)(750,-2.0)(755,-2.0)(760,-2.4)(765,-2.1)(770,-2.6)(775,-2.3)(780,-2.8)(785,-2.4)(790,-2.5)(795,-2.2)(800,-2.4)(805,-2.2)(810,-2.6)(815,-2.2)(820,-2.4)(825,-2.2)(830,-2.6)(835,-2.2)(840,-2.4)(845,-2.2)(850,-2.7)(855,-2.3)(860,-2.5)(865,-2.3)(870,-2.7)(875,-2.3)(879,-2.6)
(882,-6.8)(885,-9.4)(888,-8.0)(891,-6.6)(895,-5.8)(900,-5.0)(905,-5.1)(910,-4.3)(915,-5.1)(920,-4.4)(925,-4.6)(930,-4.5)(935,-4.7)(940,-4.7)(945,-4.2)(950,-4.4)(955,-4.4)(960,-4.6)(965,-3.9)(970,-4.0)(975,-3.0)(980,-3.0)(985,-2.3)(990,-2.4)(995,-1.9)
(1000,-2.2)(1005,-1.8)(1010,-2.0)(1015,-1.9)(1020,-2.1)(1025,-1.9)(1030,-2.5)(1035,-2.0)(1040,-2.2)(1045,-2.0)(1050,-2.6)(1055,-2.1)(1060,-2.8)(1065,-2.3)(1070,-2.5)(1075,-2.4)(1080,-3.0)(1085,-2.3)(1090,-2.5)(1095,-2.2)(1100,-2.8)(1105,-2.2)(1110,-2.4)(1115,-2.2)(1120,-2.9)(1125,-2.3)(1130,-2.4)(1135,-1.8)(1140,-2.0)(1145,-1.5)(1150,-1.8)(1155,-1.6)(1160,-1.9)(1165,-1.7)(1170,-2.2)(1175,-2.0)(1180,-2.6)(1185,-2.1)(1190,-2.8)(1195,-2.6)(1200,-3.3)(1205,-2.5)(1210,-2.6)(1215,-2.1)(1220,-2.3)(1225,-1.8)(1230,-2.0)(1235,-1.5)(1240,-1.8)(1245,-1.5)(1250,-1.8)(1255,-1.6)(1260,-2.1)(1265,-1.9)(1270,-2.2)(1275,-2.1)(1280,-2.7)(1285,-2.1)(1290,-2.6)(1295,-2.5)(1300,-3.2)(1305,-2.4)(1310,-2.4)(1315,-1.8)(1320,-2.1)(1325,-1.8)(1330,-2.1)(1335,-1.9)(1340,-2.5)(1345,-2.4)(1350,-3.2)(1355,-3.2)(1360,-2.9)(1365,-1.9)(1370,-2.0)(1375,-1.5)(1380,-1.8)(1385,-1.5)(1390,-1.8)(1395,-1.6)(1400,-2.1)(1405,-1.8)(1410,-2.1)(1415,-2.0)(1420,-2.6)(1425,-2.4)(1430,-3.1)(1435,-2.5)(1440,-2.5)(1445,-1.9)(1450,-2.2)(1455,-1.7)(1460,-2.0)(1465,-1.7)(1470,-1.9)(1475,-1.4)(1480,-1.7)(1485,-1.4)(1490,-1.9)(1495,-1.8)(1500,-2.6)(1505,-2.7)(1510,-2.8)(1515,-2.0)(1520,-2.1)(1525,-1.6)(1530,-1.9)(1535,-1.6)(1540,-2.1)(1545,-1.9)(1550,-2.7)(1555,-2.7)(1560,-2.6)(1565,-1.8)(1570,-2.0)(1575,-1.4)(1580,-1.7)(1585,-1.4)(1590,-1.7)(1595,-1.4)(1600,-1.7)(1605,-1.4)(1610,-1.7)(1615,-1.4)(1620,-1.9)(1625,-1.5)(1630,-2.1)(1635,-2.0)(1640,-2.1)(1645,-1.9)
};
\addlegendentry{GG}
\end{axis}
\end{tikzpicture}
\end{document}
